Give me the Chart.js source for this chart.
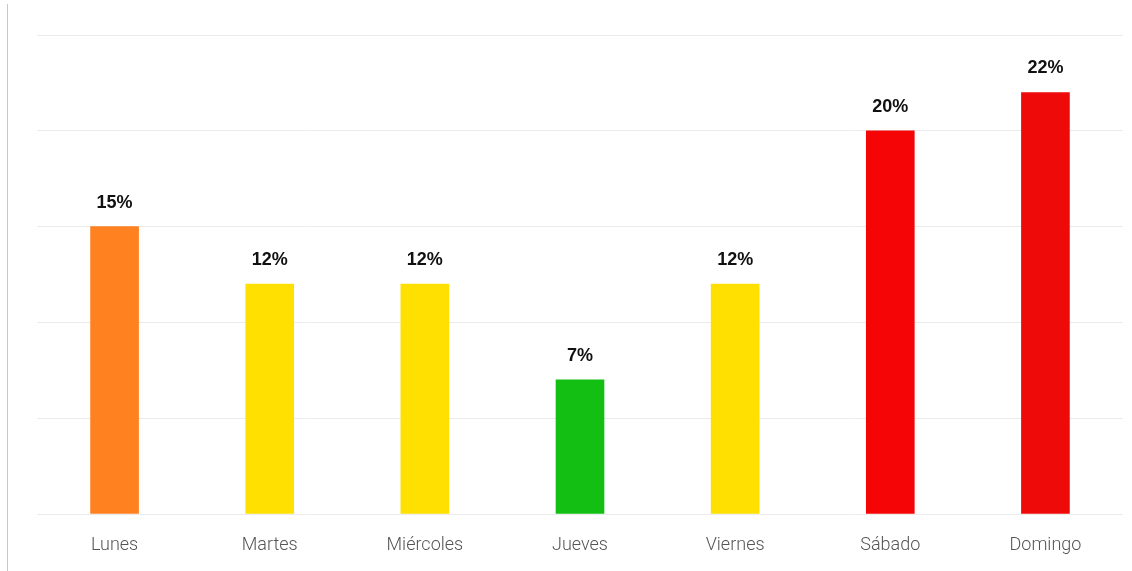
<!DOCTYPE html>
<html>
<head>
<meta charset="utf-8">
<script src="https://cdn.jsdelivr.net/npm/chart.js@4/dist/chart.umd.min.js"></script>
<style>
  html, body { margin: 0; padding: 0; background: #fff; }
  #wrap { position: relative; width: 1132px; height: 571px; }
  #wrap::before { content: ""; position: absolute; left: 7px; top: 4px; bottom: 0; border-left: 1px solid #c8c8c8; }
</style>
</head>
<body>
<div id="wrap"><canvas id="chart" width="1132" height="571"></canvas></div>
<script>
const dias = ["Lunes", "Martes", "Miércoles", "Jueves", "Viernes", "Sábado", "Domingo"];
const porcentajes = [15, 12, 12, 7, 12, 20, 22];
const colores = ["#ff8120", "#ffe000", "#ffe000", "#12bf12", "#ffe000", "#f50505", "#ef0a0a"];

// value labels over the bars
const valueLabels = {
  id: "valueLabels",
  afterDatasetsDraw(chart) {
    const ctx = chart.ctx;
    const meta = chart.getDatasetMeta(0);
    ctx.save();
    ctx.font = "bold 18px 'Liberation Sans', Arial, sans-serif";
    ctx.fillStyle = "#111";
    ctx.textAlign = "center";
    ctx.textBaseline = "alphabetic";
    meta.data.forEach((bar, i) => {
      ctx.fillText(porcentajes[i] + "%", bar.x, bar.y - 19);
    });
    ctx.restore();
  }
};

new Chart(document.getElementById("chart").getContext("2d"), {
  type: "bar",
  data: {
    labels: dias,
    datasets: [{
      data: porcentajes,
      backgroundColor: colores,
      barThickness: 48,
      borderWidth: 0
    }]
  },
  options: {
    responsive: false,
    animation: false,
    layout: { padding: { left: 37, right: 9, top: 35, bottom: -5 } },
    plugins: { legend: { display: false }, tooltip: { enabled: false } },
    scales: {
      x: {
        grid: { display: false, drawTicks: false },
        border: { display: false },
        ticks: {
          color: "#555",
          padding: 22,
          font: { family: "Roboto", weight: 300, size: 18, lineHeight: 1 }
        }
      },
      y: {
        min: 0,
        max: 25,
        ticks: { display: false, stepSize: 5 },
        border: { display: false },
        grid: { color: "#ebebeb", lineWidth: 1, drawTicks: false }
      }
    }
  },
  plugins: [valueLabels]
});
</script>
</body>
</html>
